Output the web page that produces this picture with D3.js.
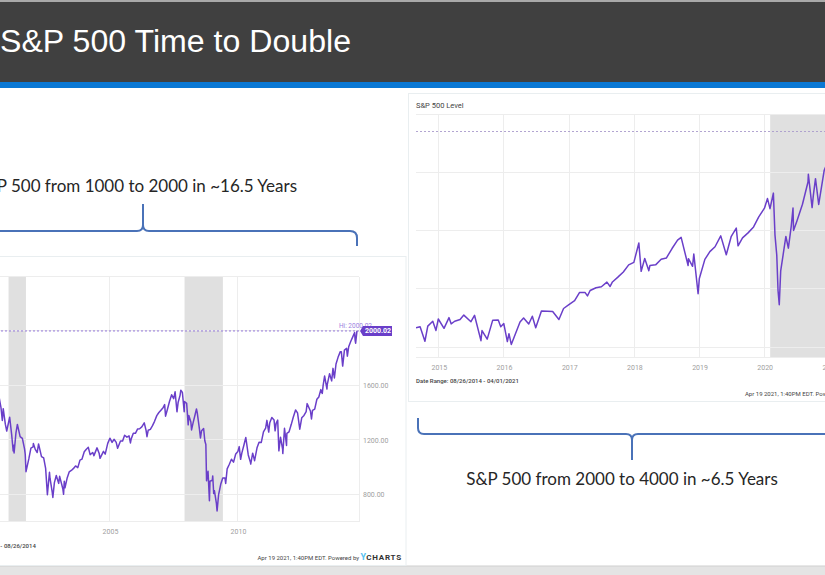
<!DOCTYPE html>
<html lang="en">
<head>
<meta charset="UTF-8">
<title>S&amp;P 500 Time to Double</title>
<script src="https://cdn.jsdelivr.net/npm/d3@7"></script>
<style>
body{margin:0;background:#fff;}
svg{display:block;}
.grid line{stroke:#ededed;shape-rendering:crispEdges;}
.axis path{display:none;}
.axis text{fill:#a0a0a0;font-family:Roboto,sans-serif;font-size:7px;}
.note{font-family:Lato,"Open Sans",sans-serif;font-size:17px;fill:#262626;}
.brace{fill:none;stroke:#4a72b8;stroke-width:2;}
.small{font-family:Roboto,sans-serif;font-size:6px;fill:#444;}
</style>
</head>
<body>
<div id="slide"></div>
<script>
// S&P 500 level, 1000 -> 2000 (left chart)
const spxEarly = [
  ["1998-01-30",980],["1998-03-31",1102],["1998-05-29",1091],["1998-07-17",1187],["1998-08-31",957],
  ["1998-10-08",960],["1998-11-30",1164],["1998-12-31",1229],["1999-03-31",1286],["1999-05-28",1302],
  ["1999-07-16",1418],["1999-08-31",1320],["1999-10-15",1247],["1999-12-31",1469],["2000-01-31",1394],
  ["2000-02-25",1333],["2000-03-24",1527],["2000-04-14",1356],["2000-05-31",1421],["2000-06-30",1455],
  ["2000-07-31",1431],["2000-08-31",1518],["2000-09-29",1437],["2000-10-18",1342],["2000-10-31",1429],
  ["2000-11-30",1315],["2000-12-20",1265],["2001-01-31",1366],["2001-02-28",1240],["2001-03-22",1118],
  ["2001-03-30",1160],["2001-04-04",1103],["2001-04-30",1249],["2001-05-21",1313],["2001-06-29",1224],
  ["2001-07-31",1211],["2001-08-31",1134],["2001-09-10",1093],["2001-09-21",966],["2001-10-31",1060],
  ["2001-11-30",1139],["2001-12-31",1148],["2002-01-04",1173],["2002-01-31",1130],["2002-02-28",1107],
  ["2002-03-19",1170],["2002-04-30",1077],["2002-05-31",1067],["2002-06-28",990],["2002-07-23",797],
  ["2002-08-22",962],["2002-08-30",916],["2002-09-30",815],["2002-10-09",777],["2002-10-31",886],
  ["2002-11-27",938],["2002-12-31",880],["2003-01-14",932],["2003-02-28",841],["2003-03-11",800],
  ["2003-03-21",895],["2003-03-31",848],["2003-04-30",917],["2003-05-30",964],["2003-06-30",975],
  ["2003-07-31",990],["2003-08-29",1008],["2003-09-30",996],["2003-10-31",1051],["2003-11-28",1058],
  ["2003-12-31",1112],["2004-01-30",1131],["2004-02-27",1145],["2004-03-24",1091],["2004-04-30",1107],
  ["2004-05-17",1084],["2004-06-30",1141],["2004-07-30",1102],["2004-08-12",1064],["2004-09-30",1115],
  ["2004-10-25",1095],["2004-11-30",1174],["2004-12-31",1212],["2005-01-31",1181],["2005-02-28",1204],
  ["2005-03-31",1181],["2005-04-20",1138],["2005-05-31",1192],["2005-06-30",1191],["2005-07-29",1234],
  ["2005-08-31",1220],["2005-09-30",1229],["2005-10-20",1177],["2005-10-31",1207],["2005-11-30",1249],
  ["2005-12-30",1248],["2006-01-31",1280],["2006-02-28",1281],["2006-03-31",1295],["2006-05-05",1325],
  ["2006-05-31",1270],["2006-06-13",1223],["2006-06-30",1270],["2006-07-31",1277],["2006-08-31",1304],
  ["2006-09-29",1336],["2006-10-31",1378],["2006-11-30",1401],["2006-12-29",1418],["2007-01-31",1438],
  ["2007-02-20",1459],["2007-03-05",1374],["2007-03-30",1421],["2007-04-30",1482],["2007-05-31",1531],
  ["2007-06-29",1503],["2007-07-19",1553],["2007-08-15",1406],["2007-08-31",1474],["2007-09-28",1527],
  ["2007-10-09",1565],["2007-10-31",1549],["2007-11-26",1407],["2007-11-30",1481],["2007-12-31",1468],
  ["2008-01-22",1310],["2008-01-31",1379],["2008-02-29",1331],["2008-03-10",1273],["2008-03-31",1323],
  ["2008-04-30",1386],["2008-05-19",1427],["2008-05-30",1400],["2008-06-30",1280],["2008-07-15",1214],
  ["2008-07-31",1267],["2008-08-29",1283],["2008-09-15",1193],["2008-09-30",1166],["2008-10-10",899],
  ["2008-10-31",969],["2008-11-20",752],["2008-11-28",896],["2008-12-31",903],["2009-01-06",935],
  ["2009-01-20",805],["2009-01-30",826],["2009-02-27",735],["2009-03-09",677],["2009-03-31",798],
  ["2009-04-30",873],["2009-05-29",919],["2009-06-30",919],["2009-07-10",880],["2009-07-31",987],
  ["2009-08-31",1021],["2009-09-30",1057],["2009-10-30",1036],["2009-11-30",1096],["2009-12-31",1115],
  ["2010-01-19",1150],["2010-02-08",1057],["2010-02-26",1104],["2010-03-31",1169],["2010-04-23",1217],
  ["2010-05-28",1089],["2010-06-30",1031],["2010-07-02",1022],["2010-07-30",1102],["2010-08-26",1047],
  ["2010-09-30",1141],["2010-10-29",1183],["2010-11-30",1181],["2010-12-31",1258],["2011-01-31",1286],
  ["2011-02-18",1343],["2011-03-16",1257],["2011-03-31",1326],["2011-04-29",1364],["2011-05-31",1345],
  ["2011-06-15",1266],["2011-06-30",1321],["2011-07-22",1345],["2011-08-08",1119],["2011-08-31",1219],
  ["2011-09-30",1131],["2011-10-03",1099],["2011-10-27",1285],["2011-11-25",1159],["2011-11-30",1247],
  ["2011-12-30",1258],["2012-01-31",1312],["2012-02-29",1366],["2012-04-02",1419],["2012-04-30",1398],
  ["2012-06-01",1278],["2012-06-29",1362],["2012-07-31",1379],["2012-08-31",1407],["2012-09-14",1466],
  ["2012-10-31",1412],["2012-11-15",1353],["2012-11-30",1416],["2012-12-31",1426],["2013-01-31",1498],
  ["2013-02-28",1515],["2013-03-28",1569],["2013-04-18",1541],["2013-04-30",1598],["2013-05-21",1669],
  ["2013-06-24",1573],["2013-06-28",1606],["2013-07-31",1686],["2013-08-30",1633],["2013-09-18",1725],
  ["2013-10-08",1655],["2013-10-31",1757],["2013-11-29",1806],["2013-12-31",1848],["2014-01-15",1848],
  ["2014-02-03",1742],["2014-02-28",1859],["2014-03-31",1872],["2014-04-11",1815],["2014-04-30",1884],
  ["2014-05-30",1924],["2014-06-30",1960],["2014-07-24",1988],["2014-07-31",1931],["2014-08-07",1910],
  ["2014-08-26",2000]
]

// S&P 500 level, 2000 -> 4000 (right chart)
const spxLate = [
  ["2014-08-26",2000],["2014-09-18",2011],["2014-10-15",1862],["2014-10-31",2018],["2014-11-28",2068],
  ["2014-12-16",1973],["2014-12-29",2091],["2015-01-30",1995],["2015-02-27",2105],["2015-03-11",2041],
  ["2015-03-31",2068],["2015-04-30",2086],["2015-05-21",2131],["2015-06-30",2063],["2015-07-20",2129],
  ["2015-08-25",1868],["2015-08-31",1972],["2015-09-29",1884],["2015-10-30",2079],["2015-11-30",2080],
  ["2015-12-14",2012],["2015-12-31",2044],["2016-01-20",1859],["2016-01-29",1940],["2016-02-11",1829],
  ["2016-03-31",2060],["2016-04-20",2102],["2016-05-19",2040],["2016-06-08",2119],["2016-06-27",2001],
  ["2016-07-29",2174],["2016-08-31",2171],["2016-09-30",2168],["2016-11-04",2085],["2016-11-30",2199],
  ["2016-12-30",2239],["2017-01-31",2279],["2017-02-28",2364],["2017-03-31",2363],["2017-04-13",2329],
  ["2017-04-28",2384],["2017-05-31",2412],["2017-06-30",2423],["2017-07-31",2470],["2017-08-18",2426],
  ["2017-08-31",2472],["2017-09-29",2519],["2017-10-31",2575],["2017-11-30",2648],["2017-12-29",2674],
  ["2018-01-26",2873],["2018-02-08",2581],["2018-02-28",2714],["2018-03-23",2588],["2018-03-29",2641],
  ["2018-04-30",2648],["2018-05-31",2705],["2018-06-29",2718],["2018-07-31",2816],["2018-08-31",2902],
  ["2018-09-20",2931],["2018-10-29",2641],["2018-10-31",2712],["2018-11-23",2633],["2018-11-30",2760],
  ["2018-12-24",2351],["2018-12-31",2507],["2019-01-31",2704],["2019-02-28",2784],["2019-03-29",2834],
  ["2019-04-30",2946],["2019-05-31",2752],["2019-06-28",2942],["2019-07-26",3026],["2019-08-05",2844],
  ["2019-08-30",2926],["2019-09-30",2977],["2019-10-31",3038],["2019-11-29",3141],["2019-12-31",3231],
  ["2020-01-17",3330],["2020-01-31",3226],["2020-02-19",3386],["2020-02-28",2954],["2020-03-09",2747],
  ["2020-03-16",2386],["2020-03-23",2237],["2020-03-31",2585],["2020-04-29",2940],["2020-05-13",2820],
  ["2020-05-29",3044],["2020-06-08",3232],["2020-06-11",3002],["2020-06-30",3100],["2020-07-31",3271],
  ["2020-08-31",3500],["2020-09-02",3580],["2020-09-23",3237],["2020-09-30",3363],["2020-10-12",3535],
  ["2020-10-30",3270],["2020-11-30",3622],["2020-12-31",3756],["2021-01-29",3714],["2021-02-12",3934],
  ["2021-03-04",3768],["2021-03-31",3973],["2021-04-01",4020]
]

// shaded bands as drawn in the source charts
const recessionsEarly = [["2001-01-15","2001-09-20"],["2007-12-01","2009-05-31"]]
const recessionsLate = [["2020-02-01","2021-04-01"]]
const ticksEarlyY = [800,1200,1600,2000]
const ticksLateY = [1800,2400,3000,3600,4200]
const hiEarly = 2000.02, hiLate = 4019.87

const W = 825, H = 575
const parse = d3.utcParse("%Y-%m-%d")

let svg = d3.select("#slide").append("svg").attr("width", W).attr("height", H)

// header band
svg.append("rect").attr("x",0).attr("y",0).attr("width",W).attr("height",82).attr("fill","#404040")
svg.append("rect").attr("x",0).attr("y",0).attr("width",W).attr("height",2).attr("fill","#a9a9a9")
svg.append("rect").attr("x",0).attr("y",82).attr("width",W).attr("height",6).attr("fill","#0a78d4")
svg.append("text").attr("x",0).attr("y",52).text("S&P 500 Time to Double")
  .attr("textLength",351).attr("lengthAdjust","spacingAndGlyphs")
  .style("font-family","'Liberation Sans',Arial,sans-serif").style("font-size","31px").attr("fill","#fff")

// footer band
svg.append("rect").attr("x",0).attr("y",566).attr("width",W).attr("height",9).attr("fill","#e4e4e4")
svg.append("line").attr("x1",0).attr("x2",W).attr("y1",566).attr("y2",566).attr("stroke","#cfcfcf")

function drawChart(o) {
  let g = svg.append("g")
  g.append("rect").attr("x",o.panel[0]).attr("y",o.panel[1]).attr("width",o.panel[2]).attr("height",o.panel[3])
    .attr("fill","#fff").attr("stroke","#e9eef0")

  let x = d3.scaleUtc().domain(o.xDomain).range(o.xRange)
  let y = d3.scaleLinear().domain(o.yDomain).range(o.yRange)
  let top = o.yRange[1], bottom = o.yRange[0], left = o.xRange[0], right = o.xRange[1]

  let clipId = "clip" + o.name
  g.append("clipPath").attr("id", clipId).append("rect")
    .attr("x", left).attr("y", top).attr("width", right-left).attr("height", bottom-top)

  // recession shading
  g.append("g").attr("clip-path","url(#"+clipId+")").selectAll("rect").data(o.recessions).join("rect")
    .attr("x", d => x(parse(d[0]))).attr("width", d => x(parse(d[1])) - x(parse(d[0])))
    .attr("y", top).attr("height", bottom-top).attr("fill","#e0e0e0")

  // grid
  let grid = g.append("g").attr("class","grid")
  grid.selectAll(".h").data(o.yTicks).join("line").attr("class","h")
    .attr("x1",left).attr("x2",right).attr("y1",d=>y(d)).attr("y2",d=>y(d))
  grid.selectAll(".v").data(x.ticks(o.xEvery)).join("line").attr("class","v")
    .attr("x1",d=>x(d)).attr("x2",d=>x(d)).attr("y1",top).attr("y2",bottom)
  grid.append("line").attr("x1",left).attr("x2",right).attr("y1",top).attr("y2",top)
  grid.append("line").attr("x1",left).attr("x2",right).attr("y1",bottom).attr("y2",bottom)
  grid.append("line").attr("x1",right).attr("x2",right).attr("y1",top).attr("y2",bottom)

  // axes
  g.append("g").attr("class","axis").attr("transform","translate(0,"+(bottom+2)+")")
    .call(d3.axisBottom(x).ticks(o.xEvery).tickFormat(d3.utcFormat("%Y")).tickSize(0).tickPadding(6))
  g.append("g").attr("class","axis").attr("transform","translate("+right+",0)")
    .call(d3.axisRight(y).tickValues(o.yTicks.filter(v => v < o.hi - 1)).tickFormat(d3.format(".2f")).tickSize(0).tickPadding(4))

  // high line
  g.append("line").attr("x1",left).attr("x2",right).attr("y1",y(o.hi)).attr("y2",y(o.hi))
    .attr("stroke",o.hiColor).attr("stroke-width",0.9).attr("stroke-dasharray","2,2")

  // series
  let line = d3.line().x(d => x(parse(d[0]))).y(d => y(d[1]))
  g.append("path").datum(o.data).attr("clip-path","url(#"+clipId+")")
    .attr("d", line).attr("fill","none").attr("stroke","#6a3fc9").attr("stroke-width",1.5).attr("stroke-linejoin","round")

  // hi label + value tag
  let hy = y(o.hi)
  g.append("text").attr("x",right+13).attr("y",hy-3).attr("text-anchor","end")
    .style("font-family","Roboto,sans-serif").style("font-size","6.5px").attr("fill","#9b7fe0").text("Hi: " + d3.format(".2f")(o.hi))
  g.append("path").attr("d","M"+(right+1)+","+hy+" L"+(right+4)+","+(hy-5)+" H"+(right+33)+" V"+(hy+5)+" H"+(right+4)+" Z")
    .attr("fill","#6a3fc9")
  g.append("text").attr("x",right+6).attr("y",hy+2.5).style("font-family","Roboto,sans-serif").style("font-size","7px")
    .style("font-weight","bold").attr("fill","#fff").text(d3.format(".2f")(o.hi))

  // captions
  let px = o.panel[0], py = o.panel[1], pw = o.panel[2], ph = o.panel[3]
  g.append("text").attr("class","small").attr("x",left).attr("y",py+14).style("font-size","7.5px").attr("fill","#333").text("S&P 500 Level")
  g.append("text").attr("class","small").attr("x",left).attr("y",bottom+26).style("font-weight","500").text(o.range)
  let foot = g.append("text").attr("class","small").attr("x",px+pw-4).attr("y",py+ph-6).attr("text-anchor","end")
  foot.append("tspan").text("Apr 19 2021, 1:40PM EDT. Powered by ")
  foot.append("tspan").attr("fill","#56c1f0").style("font-size","9px").style("font-weight","bold").text("Y")
  foot.append("tspan").attr("fill","#333").style("font-size","8px").style("font-weight","bold").style("letter-spacing","0.8px").text("CHARTS")
}

drawChart({
  name: "Early", data: spxEarly, recessions: recessionsEarly, yTicks: ticksEarlyY, hi: hiEarly, hiColor: "#8a6ad6",
  xDomain: [parse("1998-02-02"), parse("2014-09-24")], xRange: [-67, 359],
  yDomain: [600, 2400], yRange: [521.5, 276.5], xEvery: d3.utcYear.every(5),
  panel: [-112, 256.5, 518, 309], range: "Date Range: 02/02/1998 - 08/26/2014"
})

drawChart({
  name: "Late", data: spxLate, recessions: recessionsLate, yTicks: ticksLateY, hi: hiLate, hiColor: "#a99bcc",
  xDomain: [parse("2014-08-26"), parse("2021-04-01")], xRange: [416, 846],
  yDomain: [1700, 4200], yRange: [357, 114], xEvery: d3.utcYear.every(1),
  panel: [408.5, 93.5, 485, 308], range: "Date Range: 08/26/2014 - 04/01/2021"
})

// braces and notes
svg.append("path").attr("class","brace")
  .attr("d","M-10,231 H137 Q143,231 143,225 V204 M143,225 Q143,231 149,231 H350 Q357,231 357,238 V246")
svg.append("text").attr("class","note").attr("x",297).attr("y",192).attr("text-anchor","end")
  .text("S&P 500 from 1000 to 2000 in ~16.5 Years")

svg.append("path").attr("class","brace")
  .attr("d","M418,418 V428 Q418,434 424,434 H626 Q632,434 632,440 V460 M632,440 Q632,434 638,434 H830")
svg.append("text").attr("class","note").attr("x",622).attr("y",485).attr("text-anchor","middle")
  .text("S&P 500 from 2000 to 4000 in ~6.5 Years")
</script>
</body>
</html>
